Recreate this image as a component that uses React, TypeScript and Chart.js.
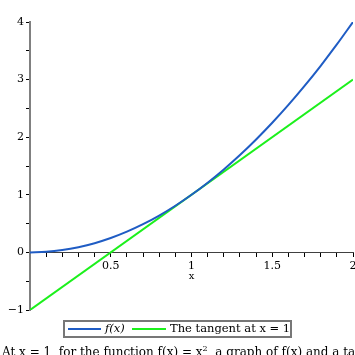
import React, { useEffect, useRef } from "react";
import { Chart, registerables } from "chart.js";

Chart.register(...registerables);

// ---- data ----
const curveX = [0, 0.1, 0.2, 0.3, 0.4, 0.5, 0.6, 0.7, 0.8, 0.9, 1, 1.1, 1.2, 1.3, 1.4, 1.5, 1.6, 1.7, 1.8, 1.9, 2];
const curveY = [0, 0.01, 0.04, 0.09, 0.16, 0.25, 0.36, 0.49, 0.64, 0.81, 1, 1.21, 1.44, 1.69, 1.96, 2.25, 2.56, 2.89, 3.24, 3.61, 4];
const tangentX = [0, 2];
const tangentY = [-1, 3];

const xLabelValues = [0.5, 1, 1.5, 2];
const xLabelTexts = ["0.5", "1", "1.5", "2"];
const yLabelValues = [-1, 0, 1, 2, 3, 4];
const yLabelTexts = ["\u22121", "0", "1", "2", "3", "4"];

const seriesNames = ["f(x)", "The tangent at x = 1"];

const BLUE = "#1f5cc4";
const GREEN = "#1cf01c";
const FONT = "'DejaVu Serif', serif";

function labelFor(values: number[], texts: string[], v: number): string {
  const i = values.findIndex((t) => Math.abs(t - v) < 1e-6);
  return i >= 0 ? texts[i] : "";
}

export default function App() {
  const ref = useRef<HTMLCanvasElement | null>(null);

  useEffect(() => {
    if (!ref.current) return;
    const chart = new Chart(ref.current, {
      type: "scatter",
      data: {
        datasets: [
          {
            label: seriesNames[0],
            data: curveX.map((x, i) => ({ x, y: curveY[i] })),
            showLine: true,
            borderColor: BLUE,
            backgroundColor: BLUE,
            borderWidth: 2,
            pointRadius: 0,
            cubicInterpolationMode: "monotone",
            fill: false,
          },
          {
            label: seriesNames[1],
            data: tangentX.map((x, i) => ({ x, y: tangentY[i] })),
            showLine: true,
            borderColor: GREEN,
            backgroundColor: GREEN,
            borderWidth: 2,
            pointRadius: 0,
            fill: false,
          },
        ],
      },
      options: {
        animation: false,
        responsive: false,
        events: [],
        layout: { padding: { left: 0, top: 22, right: 27, bottom: 30 } },
        plugins: { legend: { display: false }, tooltip: { enabled: false } },
        scales: {
          x: {
            type: "linear",
            position: { y: 0 } as any,
            min: 0,
            max: 2,
            afterFit: (s: any) => {
              s.height = 30;
            },
            ticks: {
              stepSize: 0.1,
              autoSkip: false,
              maxRotation: 0,
              minRotation: 0,
              padding: 3,
              color: "#000",
              font: { family: FONT, size: 11 },
              callback: (v: any) => labelFor(xLabelValues, xLabelTexts, Number(v)),
            },
            grid: {
              drawOnChartArea: false,
              drawTicks: true,
              tickLength: 4,
              color: "#000",
              tickColor: "#000",
              tickWidth: 1,
            },
            border: { display: true, color: "#404040", width: 1 },
            title: {
              display: true,
              text: "x",
              color: "#000",
              padding: 0,
              font: { family: FONT, size: 10 },
            },
          },
          y: {
            type: "linear",
            position: "left",
            min: -1,
            max: 4,
            afterFit: (s: any) => {
              s.width = 30;
            },
            ticks: {
              stepSize: 0.5,
              autoSkip: false,
              padding: 2,
              color: "#000",
              font: { family: FONT, size: 11 },
              callback: (v: any) => labelFor(yLabelValues, yLabelTexts, Number(v)),
            },
            grid: {
              drawOnChartArea: false,
              drawTicks: true,
              tickLength: 4,
              color: "#000",
              tickColor: "#000",
              tickWidth: 1,
            },
            border: { display: true, color: "#808080", width: 2 },
          },
        },
      },
    });
    return () => chart.destroy();
  }, []);

  return (
    <div
      style={{
        position: "fixed",
        left: 0,
        top: 0,
        width: 355,
        height: 355,
        overflow: "hidden",
        background: "#fff",
        fontFamily: FONT,
      }}
    >
      <canvas
        ref={ref}
        width={380}
        height={340}
        style={{ position: "absolute", left: 0, top: 0, width: 380, height: 340 }}
      />
      <div
        style={{
          position: "absolute",
          left: 63,
          top: 320,
          width: 229,
          height: 18,
          boxSizing: "border-box",
          border: "2px solid #777",
          background: "#fff",
          fontSize: 11.5,
          color: "#000",
        }}
      >
        <div style={{ position: "absolute", left: 3, top: 6, width: 33, height: 2, background: BLUE }} />
        <div style={{ position: "absolute", left: 40, top: -1, fontStyle: "italic", whiteSpace: "nowrap" }}>
          {seriesNames[0]}
        </div>
        <div style={{ position: "absolute", left: 67, top: 6, width: 34, height: 2, background: GREEN }} />
        <div style={{ position: "absolute", left: 105, top: -1, whiteSpace: "nowrap" }}>{seriesNames[1]}</div>
      </div>
      <div
        style={{
          position: "absolute",
          left: 2,
          top: 344,
          whiteSpace: "nowrap",
          fontSize: 12,
          color: "#000",
        }}
      >
        At x = 1, for the function f(x) = x<sup style={{ fontSize: 8 }}>2</sup>, a graph of f(x) and a tangent line at x = 1 are shown.
      </div>
    </div>
  );
}
